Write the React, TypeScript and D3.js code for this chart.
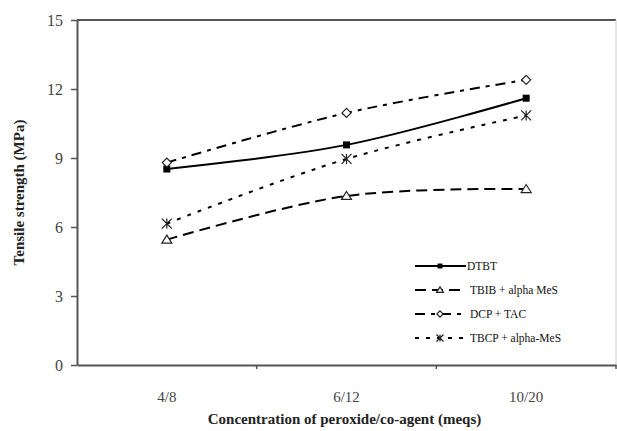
import React, { useEffect, useRef } from 'react';
import * as d3 from 'd3';

const categories = ['4/8', '6/12', '10/20'];
const yTicks = [0, 3, 6, 9, 12, 15];

const dtbt = [8.52, 9.57, 11.6];
const tbib = [5.45, 7.35, 7.65];
const dcp = [8.8, 10.96, 12.4];
const tbcp = [6.15, 8.96, 10.85];

const seriesNames = ['DTBT', 'TBIB + alpha MeS', 'DCP + TAC', 'TBCP + alpha-MeS'];

const W = 617;
const H = 431;

export default function App() {
  const ref = useRef<SVGSVGElement>(null);

  useEffect(() => {
    const svg = d3.select(ref.current);
    svg.selectAll('*').remove();

    const left = 77, right = 616, top = 20, bottom = 365;
    const x = d3.scaleBand<string>().domain(categories).range([left, right]).padding(0);
    const y = d3.scaleLinear().domain([0, 15]).range([bottom, top]);
    const cx = (c: string) => (x(c) as number) + x.bandwidth() / 2;

    svg.append('rect').attr('width', W).attr('height', H).attr('fill', '#fff');

    // frame
    svg.append('line').attr('x1', left).attr('x2', right).attr('y1', top).attr('y2', top)
      .attr('stroke', '#555').attr('stroke-width', 2);
    svg.append('line').attr('x1', right).attr('x2', right).attr('y1', top).attr('y2', bottom)
      .attr('stroke', '#ccc').attr('stroke-width', 1);

    // y axis
    const ya = svg.append('g').attr('transform', `translate(${left},0)`)
      .call(d3.axisLeft(y).tickValues(yTicks).tickSize(6).tickSizeOuter(0).tickFormat(d3.format('d')));
    ya.select('.domain').attr('stroke', '#555').attr('stroke-width', 2);
    ya.selectAll('.tick line').attr('stroke', '#555').attr('stroke-width', 1.5);
    ya.selectAll('.tick text').attr('font-family', 'Liberation Serif').attr('font-size', 16)
      .attr('fill', '#444').attr('x', -14);

    // x axis
    const xa = svg.append('g').attr('transform', `translate(0,${bottom})`)
      .call(d3.axisBottom(x).tickSize(0).tickSizeOuter(0));
    xa.select('.domain').attr('stroke', '#555').attr('stroke-width', 2);
    xa.selectAll('.tick text').attr('font-family', 'Liberation Serif').attr('font-size', 15)
      .attr('fill', '#444').attr('dy', 0).attr('y', 37);
    const bounds = categories.map(c => x(c) as number).concat([right]).slice(1);
    xa.selectAll('line.sep').data(bounds).enter().append('line').attr('class', 'sep')
      .attr('x1', d => d).attr('x2', d => d).attr('y1', 0).attr('y2', 4)
      .attr('stroke', '#555').attr('stroke-width', 1.5);

    // titles
    svg.append('text').attr('transform', `translate(24,${(top + bottom) / 2}) rotate(-90)`)
      .attr('text-anchor', 'middle').attr('font-family', 'Liberation Serif').attr('font-weight', 'bold')
      .attr('font-size', 15).attr('fill', '#222').text('Tensile strength (MPa)');
    svg.append('text').attr('x', (left + right) / 2 - 2).attr('y', 424)
      .attr('text-anchor', 'middle').attr('font-family', 'Liberation Serif').attr('font-weight', 'bold')
      .attr('font-size', 15).attr('fill', '#222').text('Concentration of peroxide/co-agent (meqs)');

    const series = [
      { name: seriesNames[0], values: dtbt, dash: null, marker: 'square' },
      { name: seriesNames[1], values: tbib, dash: '11,6', marker: 'triangle' },
      { name: seriesNames[2], values: dcp, dash: '10,6,4,6', marker: 'diamond' },
      { name: seriesNames[3], values: tbcp, dash: '4,7', marker: 'star' },
    ];

    const line = d3.line<number>()
      .x((_, i) => cx(categories[i]))
      .y(d => y(d))
      .curve(d3.curveCatmullRom.alpha(0.5));

    const drawMarker = (g: any, kind: string, px: number, py: number, s = 1) => {
      if (kind === 'square') {
        const r = 3.5 * s;
        g.append('rect').attr('x', px - r).attr('y', py - r).attr('width', 2 * r).attr('height', 2 * r).attr('fill', '#000');
      } else if (kind === 'triangle') {
        g.append('path').attr('d', `M${px},${py - 4.5 * s}L${px + 5 * s},${py + 3.5 * s}L${px - 5 * s},${py + 3.5 * s}Z`)
          .attr('fill', '#fff').attr('stroke', '#222').attr('stroke-width', 1.2);
      } else if (kind === 'diamond') {
        const r = 4.5 * s;
        g.append('path').attr('d', `M${px},${py - r}L${px + r},${py}L${px},${py + r}L${px - r},${py}Z`)
          .attr('fill', '#fff').attr('stroke', '#222').attr('stroke-width', 1.2);
      } else {
        const r = 5 * s;
        g.append('path')
          .attr('d', `M${px - r},${py - r}L${px + r},${py + r}M${px - r},${py + r}L${px + r},${py - r}M${px},${py - r}L${px},${py + r}`)
          .attr('stroke', '#222').attr('stroke-width', 1.2).attr('fill', 'none');
      }
    };

    series.forEach(s => {
      svg.append('path').attr('d', line(s.values) as string).attr('fill', 'none')
        .attr('stroke', '#000').attr('stroke-width', 2)
        .attr('stroke-dasharray', s.dash);
      const g = svg.append('g');
      s.values.forEach((v, i) => drawMarker(g, s.marker, cx(categories[i]), y(v)));
    });

    // legend
    const lg = svg.append('g');
    series.forEach((s, i) => {
      const ly = 266 + i * 24;
      lg.append('line').attr('x1', 415).attr('x2', 466).attr('y1', ly).attr('y2', ly)
        .attr('stroke', '#000').attr('stroke-width', 2).attr('stroke-dasharray', s.dash);
      drawMarker(lg, s.marker, 440, ly, 0.7);
      lg.append('text').attr('x', i === 0 ? 467 : 470).attr('y', ly + 4)
        .attr('font-family', 'Liberation Serif').attr('font-size', 11.5).attr('fill', '#111').text(s.name);
    });
  }, []);

  return <svg ref={ref} width={W} height={H} style={{ display: 'block', position: 'absolute', left: 0, top: 0 }} />;
}
